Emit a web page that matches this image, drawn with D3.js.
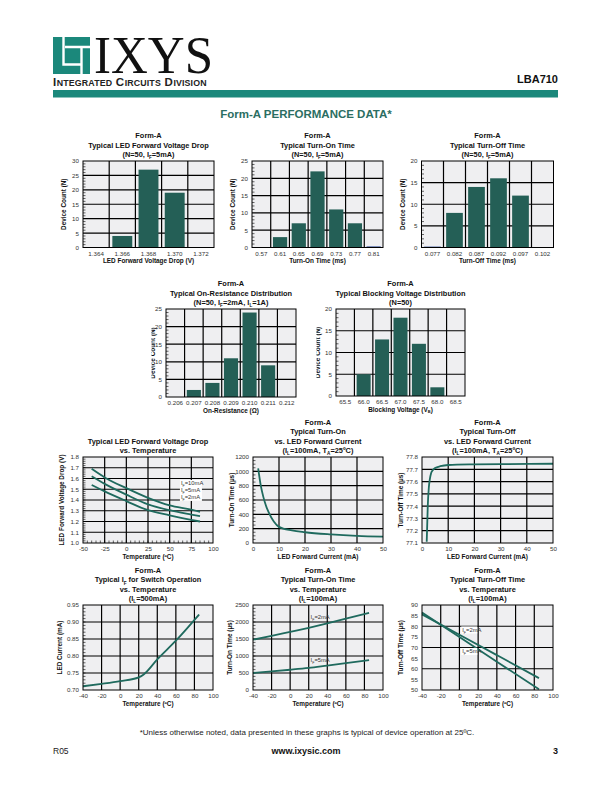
<!DOCTYPE html>
<html><head><meta charset="utf-8">
<script src="https://cdn.jsdelivr.net/npm/d3@7"></script>
<style>body{margin:0;background:#fff}svg{display:block}text{font-family:"Liberation Sans",Arial,Helvetica,sans-serif}</style>
</head><body><script>
// ---------- DATA ----------
const vfBins = ["1.364","1.366","1.368","1.370","1.372"];
const vfCounts = [0,4,27,19,0];
const tonBins = ["0.57","0.61","0.65","0.69","0.73","0.77","0.81"];
const tonCounts = [0,3,7,22,11,7,0.3];
const toffBins = ["0.077","0.082","0.087","0.092","0.097","0.102"];
const toffCounts = [0.2,8,14,16,12,0];
const ronBins = ["0.206","0.207","0.208","0.209","0.210","0.211","0.212"];
const ronCounts = [0,2,4,11,24,9,0];
const bvBins = ["65.5","66.0","66.5","67.0","67.5","68.0","68.5"];
const bvCounts = [0,5,13,18,12,2,0];

const vfTemp = [-40,-25,0,25,50,75,85];
const vf10mA = [1.69,1.61,1.51,1.42,1.35,1.31,1.29];
const vf5mA  = [1.62,1.55,1.45,1.36,1.305,1.265,1.25];
const vf2mA  = [1.54,1.48,1.39,1.305,1.258,1.215,1.2];
const vfLegend = ["I{F}=10mA","I{F}=5mA","I{F}=2mA"];

const ifOn = [2,3,4,5,6,8,10,15,20,30,40,50];
const tonVsIf = [1040,800,640,520,430,300,225,175,150,120,100,88];

const ifOff = [1.8,2.2,2.6,3,3.5,4,5,7,10,20,30,50];
const toffVsIf = [77.11,77.4,77.55,77.62,77.67,77.69,77.71,77.725,77.735,77.74,77.742,77.745];

const swTemp = [-40,-20,0,20,25,40,60,85];
const swIf = [0.711,0.718,0.726,0.737,0.745,0.79,0.845,0.922];

const tOnTemp = [-40,-20,0,20,40,60,85];
const tOn2mA = [1480,1590,1710,1830,1960,2100,2270];
const tOn5mA = [500,545,595,650,720,790,880];
const tOnLegend = ["I{F}=2mA","I{F}=5mA"];

const tOffTemp = [-40,0,40,85];
const tOff2mA = [85.6,76.0,66.4,55.6];
const tOff5mA = [86.5,74.9,63.3,50.3];
const tOffLegend = ["I{F}=2mA","I{F}=5mA"];

// ---------- STYLE ----------
const BG="#efeff1", BAR="#245f56", LINE="#1f6a5e", TEAL="#1b887b", DARKTEAL="#2b6e62";
const svg = d3.select("body").append("svg").attr("width",612).attr("height",792);

function rich(t, str, fs){
  const parts = str.split(/\{([^}]*)\}/);
  let shifted = 0;
  parts.forEach((p,i)=>{
    if(p==="") return;
    if(i%2===1){
      t.append("tspan").attr("font-size",fs*0.62).attr("dy",fs*0.3).text(p);
      shifted = fs*0.3;
    } else {
      const s = t.append("tspan").text(p);
      if(shifted){ s.attr("dy",-shifted); shifted=0; }
    }
  });
  return t;
}
const plain = d => String(Math.round(d*1000)/1000).replace("\u2212","-");

// ---------- HEADER ----------
svg.append("rect").attr("x",53).attr("y",37).attr("width",37).attr("height",37).attr("fill",TEAL);
svg.append("path").attr("d","M63.5,37 V64.5 H81").attr("stroke","#fff").attr("stroke-width",2.4).attr("fill","none");
svg.append("path").attr("d","M65,47 H90 M81.5,47 V74").attr("stroke","#fff").attr("stroke-width",2.4).attr("fill","none");
svg.append("clipPath").attr("id","logoClip").append("rect").attr("x",90).attr("y",20).attr("width",130).attr("height",55);
svg.append("g").attr("clip-path","url(#logoClip)").append("text").attr("x",94).attr("y",73)
  .attr("font-size",52).attr("textLength",119).attr("lengthAdjust","spacingAndGlyphs").attr("fill","#111").style("font-family","'Liberation Serif','Times New Roman',serif").text("IXYS");
// small-caps division line, laid out piece by piece
let icdX = 53;
[["I",11.5],["NTEGRATED",8.8],[" ",0],["C",11.5],["IRCUITS",8.8],[" ",0],["D",11.5],["IVISION",8.8]].forEach(([s,f])=>{
  if(f===0){ icdX += 3.2; return; }
  const t = svg.append("text").attr("x",icdX).attr("y",85.5).attr("font-weight","bold").attr("fill","#222")
    .attr("font-size",f).attr("letter-spacing",0.15).text(s);
  icdX += t.node().getComputedTextLength() + 0.4;
});
svg.append("text").attr("x",558).attr("y",83).attr("text-anchor","end").attr("font-weight","bold").attr("font-size",11).attr("fill","#111").text("LBA710");
svg.append("rect").attr("x",53).attr("y",90).attr("width",505).attr("height",7.5).attr("fill",TEAL);
svg.append("text").attr("x",306).attr("y",118).attr("text-anchor","middle").attr("font-weight","bold").attr("font-size",11.5).attr("fill",DARKTEAL).text("Form-A PERFORMANCE DATA*");

// ---------- FOOTER ----------
svg.append("text").attr("x",307).attr("y",735).attr("text-anchor","middle").attr("font-size",8).attr("fill","#222")
  .text("*Unless otherwise noted, data presented in these graphs is typical of device operation at 25ºC.");
svg.append("text").attr("x",53).attr("y",754).attr("font-size",8.5).attr("fill","#222").text("R05");
svg.append("text").attr("x",306).attr("y",754).attr("text-anchor","middle").attr("font-weight","bold").attr("font-size",9).attr("fill","#111").text("www.ixysic.com");
svg.append("text").attr("x",558).attr("y",754).attr("text-anchor","end").attr("font-weight","bold").attr("font-size",9).attr("fill","#111").text("3");

// ---------- PANELS ----------
let clipId=0;
function panel(c){
  const g = svg.append("g").attr("transform",`translate(${c.x},${c.y})`);
  g.append("rect").attr("width",c.w).attr("height",c.h).attr("fill",BG);
  c.title.forEach((line,i)=>{
    const t = g.append("text").attr("x",c.w/2+(c.tdx||0)).attr("y",-4-(c.title.length-1-i)*9.3)
      .attr("text-anchor","middle").attr("font-weight","bold").attr("font-size",7.4).attr("fill","#111");
    rich(t,line,7.4);
  });
  const xl = g.append("text").attr("x",c.w/2).attr("y",c.h+15.5).attr("text-anchor","middle")
    .attr("font-weight","bold").attr("font-size",6.4).attr("fill","#111");
  rich(xl,c.xLabel,6.4);
  const yg = g.append("g");
  if(c.clipY!==undefined){
    const id="clip"+(clipId++);
    svg.append("clipPath").attr("id",id).append("rect").attr("x",c.clipY).attr("y",-20).attr("width",30).attr("height",c.h+40);
    yg.attr("clip-path",`url(#${id})`);
  }
  const yl = yg.append("text").attr("transform",`translate(${c.ylx},${c.h/2}) rotate(-90)`).attr("text-anchor","middle")
    .attr("font-weight","bold").attr("font-size",6.4).attr("fill","#111");
  rich(yl,c.yLabel,6.4);
  return g;
}
function styleAxis(a){
  a.select(".domain").remove();
  a.selectAll("text").attr("font-size",6.2).attr("fill","#333").style("font-family","'Liberation Sans',Arial,sans-serif");
}
function gridLines(g,c,xs,ys){
  g.append("g").selectAll("line").data(xs).join("line")
    .attr("x1",d=>d).attr("x2",d=>d).attr("y1",0).attr("y2",c.h).attr("stroke","#000").attr("stroke-width",1.2);
  g.append("g").selectAll("line").data(ys).join("line")
    .attr("x1",0).attr("x2",c.w).attr("y1",d=>d).attr("y2",d=>d).attr("stroke","#000").attr("stroke-width",1.2);
}
function minorTicks(g,c,yScale,vals,xScale,xvals){
  g.append("g").selectAll("line").data(vals).join("line")
    .attr("x1",0).attr("x2",2.5).attr("y1",d=>yScale(d)).attr("y2",d=>yScale(d)).attr("stroke","#000").attr("stroke-width",0.6);
  if(xvals) g.append("g").selectAll("line").data(xvals).join("line")
    .attr("y1",c.h).attr("y2",c.h-2.5).attr("x1",d=>xScale(d)).attr("x2",d=>xScale(d)).attr("stroke","#000").attr("stroke-width",0.6);
}
function border(g,c){
  g.append("rect").attr("width",c.w).attr("height",c.h).attr("fill","none").attr("stroke","#000").attr("stroke-width",1);
}

function histo(c){
  const g = panel(c);
  const x = d3.scaleBand().domain(c.bins).range([0,c.w]);
  const y = d3.scaleLinear().domain([0,c.yMax]).range([c.h,0]);
  const yt = d3.range(0,c.yMax+0.001,c.yStep);
  minorTicks(g,c,y,d3.range(0,c.yMax,1).filter(v=>v%c.yStep!==0));
  gridLines(g,c,c.bins.slice(1).map(b=>x(b)),yt.slice(1,-1).map(v=>y(v)));
  g.append("g").selectAll("rect").data(c.bins.map((b,i)=>({b,v:c.counts[i]}))).join("rect")
    .attr("x",d=>x(d.b)+x.bandwidth()*0.12).attr("width",x.bandwidth()*0.76)
    .attr("y",d=>y(d.v)).attr("height",d=>c.h-y(d.v))
    .attr("fill",d=>d.v<1?"#1f3f8f":BAR);
  border(g,c);
  styleAxis(g.append("g").call(d3.axisLeft(y).tickValues(yt).tickSize(0).tickPadding(4)));
  styleAxis(g.append("g").attr("transform",`translate(0,${c.h})`).call(d3.axisBottom(x).tickSize(0).tickPadding(4)));
}

function lineChart(c){
  const g = panel(c);
  const x = d3.scaleLinear().domain(c.xDomain).range([0,c.w]);
  const y = d3.scaleLinear().domain(c.yDomain).range([c.h,0]);
  if(c.yMinor) minorTicks(g,c,y,c.yMinor,x,c.xMinor);
  gridLines(g,c,c.xGrid.map(v=>x(v)),c.yGrid.map(v=>y(v)));
  const line = d3.line().x(d=>x(d[0])).y(d=>y(d[1])).curve(c.curve||d3.curveMonotoneX);
  c.series.forEach(s=>{
    g.append("path").datum(s.x.map((v,i)=>[v,s.y[i]])).attr("d",line)
      .attr("fill","none").attr("stroke",LINE).attr("stroke-width",1.8);
  });
  (c.labels||[]).forEach(l=>{
    if(l.box){
      g.append("rect").attr("x",x(l.x)-1).attr("y",y(l.y)-5.5).attr("width",l.box).attr("height",7).attr("fill","#fff");
    }
    const t = g.append("text").attr("x",x(l.x)).attr("y",y(l.y)).attr("font-size",5.8).attr("fill","#333");
    rich(t,l.text,5.8);
  });
  border(g,c);
  styleAxis(g.append("g").call(d3.axisLeft(y).tickValues(c.yTicks).tickSize(0).tickPadding(4).tickFormat(c.yFmt)));
  styleAxis(g.append("g").attr("transform",`translate(0,${c.h})`).call(d3.axisBottom(x).tickValues(c.xTicks).tickSize(0).tickPadding(4).tickFormat(plain)));
}

// Row 1
histo({x:83,y:161,w:131,h:86.5,bins:vfBins,counts:vfCounts,yMax:30,yStep:5,ylx:-17,
  title:["Form-A","Typical LED Forward Voltage Drop","(N=50, I{F}=5mA)"],xLabel:"LED Forward Voltage Drop (V)",yLabel:"Device Count (N)"});
histo({x:252,y:161,w:131,h:86.5,bins:tonBins,counts:tonCounts,yMax:25,yStep:5,ylx:-17,
  title:["Form-A","Typical Turn-On Time","(N=50, I{F}=5mA)"],xLabel:"Turn-On Time (ms)",yLabel:"Device Count (N)"});
histo({x:421.5,y:161,w:132,h:86.5,bins:toffBins,counts:toffCounts,yMax:20,yStep:5,ylx:-17,
  title:["Form-A","Typical Turn-Off Time","(N=50, I{F}=5mA)"],xLabel:"Turn-Off Time (ms)",yLabel:"Device Count (N)"});
// Row 2
histo({x:166,y:309,w:130,h:88,bins:ronBins,counts:ronCounts,yMax:25,yStep:5,ylx:-11,clipY:-14.5,
  title:["Form-A","Typical On-Resistance Distribution","(N=50, I{F}=2mA, I{L}=1A)"],xLabel:"On-Resistance (Ω)",yLabel:"Device Count (N)"});
histo({x:336,y:309,w:129,h:87,bins:bvBins,counts:bvCounts,yMax:20,yStep:5,ylx:-16,clipY:-19.5,
  title:["Form-A","Typical Blocking Voltage Distribution","(N=50)"],xLabel:"Blocking Voltage (V{B})",yLabel:"Device Count (N)"});
// Row 3
lineChart({x:83,y:457,w:130,h:86,xDomain:[-50,100],yDomain:[1.0,1.8],ylx:-19,
  xTicks:d3.range(-50,101,25),yTicks:d3.range(1.0,1.81,0.1),yFmt:d3.format(".1f"),
  xGrid:d3.range(-25,76,25),yGrid:d3.range(1.1,1.75,0.1),
  yMinor:d3.range(1.02,1.8,0.02),xMinor:d3.range(-45,100,5),
  series:[{x:vfTemp,y:vf10mA},{x:vfTemp,y:vf5mA},{x:vfTemp,y:vf2mA}],
  labels:[{x:63,y:1.535,text:vfLegend[0],box:22},{x:63,y:1.47,text:vfLegend[1],box:22},{x:63,y:1.405,text:vfLegend[2],box:22}],
  title:["Typical LED Forward Voltage Drop","vs. Temperature"],xLabel:"Temperature (ºC)",yLabel:"LED Forward Voltage Drop (V)"});
lineChart({x:253,y:457,w:130,h:86,xDomain:[0,50],yDomain:[0,1200],ylx:-19,
  xTicks:d3.range(0,51,10),yTicks:d3.range(0,1201,200),yFmt:d3.format("d"),
  xGrid:[10,20,30,40],yGrid:[200,400,600,800,1000],yMinor:d3.range(50,1200,50),
  series:[{x:ifOn,y:tonVsIf}],
  title:["Form-A","Typical Turn-On","vs. LED Forward Current","(I{L}=100mA, T{A}=25ºC)"],xLabel:"LED Forward Current (mA)",yLabel:"Turn-On Time (µs)"});
lineChart({x:422,y:457,w:131,h:86,xDomain:[0,50],yDomain:[77.1,77.8],ylx:-19,
  xTicks:d3.range(0,51,10),yTicks:d3.range(77.1,77.81,0.1),yFmt:d3.format(".1f"),
  xGrid:[10,20,30,40],yGrid:d3.range(77.2,77.75,0.1),
  series:[{x:ifOff,y:toffVsIf}],
  title:["Form-A","Typical Turn-Off","vs. LED Forward Current","(I{L}=100mA, T{A}=25ºC)"],xLabel:"LED Forward Current (mA)",yLabel:"Turn-Off Time (µs)"});
// Row 4
lineChart({x:83,y:605,w:130,h:85,xDomain:[-40,100],yDomain:[0.70,0.95],ylx:-21,
  xTicks:d3.range(-40,101,20),yTicks:d3.range(0.70,0.951,0.05),yFmt:d3.format(".2f"),
  xGrid:d3.range(-20,81,20),yGrid:d3.range(0.75,0.91,0.05),yMinor:d3.range(0.71,0.95,0.01),
  series:[{x:swTemp,y:swIf}],
  title:["Form-A","Typical I{F} for Switch Operation","vs. Temperature","(I{L}=500mA)"],xLabel:"Temperature (ºC)",yLabel:"LED Current (mA)"});
lineChart({x:253,y:605,w:130,h:85,xDomain:[-40,100],yDomain:[0,2500],ylx:-21,
  xTicks:d3.range(-40,101,20),yTicks:d3.range(0,2501,500),yFmt:d3.format("d"),
  xGrid:d3.range(-20,81,20),yGrid:[500,1000,1500,2000],yMinor:d3.range(100,2500,100),
  series:[{x:tOnTemp,y:tOn2mA},{x:tOnTemp,y:tOn5mA}],
  labels:[{x:22,y:2090,text:tOnLegend[0]},{x:22,y:830,text:tOnLegend[1]}],
  title:["Form-A","Typical Turn-On Time","vs. Temperature","(I{L}=100mA)"],xLabel:"Temperature (ºC)",yLabel:"Turn-On Time (µs)"});
lineChart({x:422,y:605,w:131,h:85,xDomain:[-40,100],yDomain:[50,90],ylx:-19,
  xTicks:d3.range(-40,101,20),yTicks:d3.range(50,91,5),yFmt:d3.format("d"),
  xGrid:d3.range(-20,81,20),yGrid:[60,70,80],
  series:[{x:tOffTemp,y:tOff2mA},{x:tOffTemp,y:tOff5mA}],
  labels:[{x:3,y:77.3,text:tOffLegend[0],box:16},{x:3,y:67.2,text:tOffLegend[1],box:16}],
  title:["Form-A","Typical Turn-Off Time","vs. Temperature","(I{L}=100mA)"],xLabel:"Temperature (ºC)",yLabel:"Turn-Off Time (µs)"});
</script></body></html>
